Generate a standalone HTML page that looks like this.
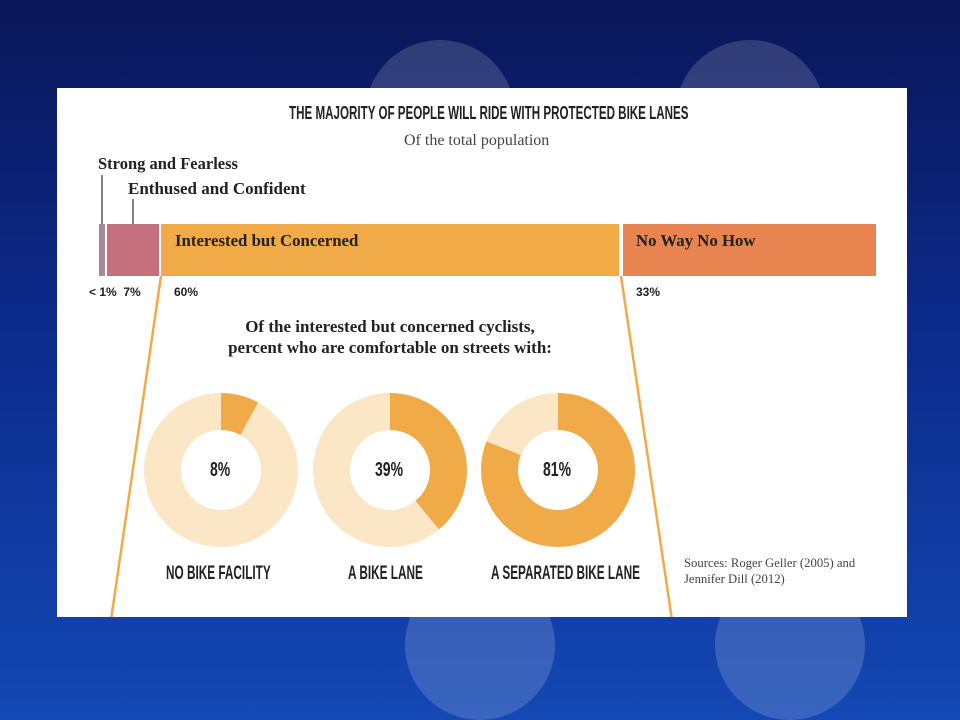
<!DOCTYPE html>
<html><head><meta charset="utf-8"><style>
body{margin:0;width:960px;height:720px;overflow:hidden;background:linear-gradient(180deg,#0b1658 0%,#0c2a8a 45%,#1448b4 100%);font-family:"Liberation Sans",sans-serif;position:relative}
.wm{position:absolute;width:150px;height:150px;border-radius:50%;background:rgba(255,255,255,0.16)}
.panel{position:absolute;left:57px;top:88px;width:850px;height:529px;background:#fff;overflow:hidden}
.t{position:absolute;white-space:nowrap;color:#222}
.serif{font-family:"Liberation Serif",serif;font-weight:bold}
.cond{font-family:"Liberation Sans Narrow","Liberation Sans",sans-serif;font-weight:bold;transform-origin:left top}
</style></head><body>
<div class="wm" style="left:365px;top:40px"></div>
<div class="wm" style="left:675px;top:40px"></div>
<div class="wm" style="left:405px;top:570px"></div>
<div class="wm" style="left:715px;top:570px"></div>
<div class="panel">
<svg width="850" height="529" style="position:absolute;left:0;top:0">
<g transform="translate(-57,-88)">
<rect x="99" y="224" width="6" height="52" fill="#a48a98"/>
<rect x="107" y="224" width="52" height="52" fill="#c4707e"/>
<rect x="161" y="224" width="458" height="52" fill="#f0aa48"/>
<rect x="623" y="224" width="253" height="52" fill="#e7844f"/>
<line x1="102" y1="175" x2="102" y2="224" stroke="#555" stroke-width="1.5"/>
<line x1="133" y1="199" x2="133" y2="224" stroke="#555" stroke-width="1.5"/>
<line x1="161" y1="276" x2="111" y2="620" stroke="#f0aa48" stroke-width="2.5"/>
<line x1="621" y1="276" x2="672" y2="620" stroke="#f0aa48" stroke-width="2.5"/>
<g fill="none" stroke-width="37">
<circle cx="221" cy="470" r="58.5" stroke="#fbe6c6"/>
<circle cx="221" cy="470" r="58.5" stroke="#f0aa48" stroke-dasharray="29.4 400" transform="rotate(-90 221 470)"/>
<circle cx="390" cy="470" r="58.5" stroke="#fbe6c6"/>
<circle cx="390" cy="470" r="58.5" stroke="#f0aa48" stroke-dasharray="143.4 400" transform="rotate(-90 390 470)"/>
<circle cx="558" cy="470" r="58.5" stroke="#fbe6c6"/>
<circle cx="558" cy="470" r="58.5" stroke="#f0aa48" stroke-dasharray="297.8 400" transform="rotate(-90 558 470)"/>
</g>
</g>
</svg>
<div class="t cond" style="left:232px;top:15px;font-size:18px;transform:scaleX(0.645)">THE MAJORITY OF PEOPLE WILL RIDE WITH PROTECTED BIKE LANES</div>
<div class="t" style="left:347px;top:44px;font-size:16px;font-family:'Liberation Serif',serif;color:#444">Of the total population</div>
<div class="t serif" style="left:41px;top:66px;font-size:16.5px">Strong and Fearless</div>
<div class="t serif" style="left:71px;top:91px;font-size:17px">Enthused and Confident</div>
<div class="t serif" style="left:118px;top:143px;font-size:16.8px">Interested but Concerned</div>
<div class="t serif" style="left:579px;top:143px;font-size:16.8px">No Way No How</div>
<div class="t" style="left:32px;top:197px;font-size:12px;font-weight:bold">&lt; 1%&nbsp; 7%</div>
<div class="t" style="left:117px;top:197px;font-size:12px;font-weight:bold">60%</div>
<div class="t" style="left:579px;top:197px;font-size:12px;font-weight:bold">33%</div>
<div class="t serif" style="left:0;width:666px;text-align:center;top:228px;font-size:17px;line-height:21px">Of the interested but concerned cyclists,<br>percent who are comfortable on streets with:</div>
<div class="t cond" style="left:153px;top:371px;font-size:20px;transform:scaleX(0.7)">8%</div>
<div class="t cond" style="left:318px;top:371px;font-size:20px;transform:scaleX(0.7)">39%</div>
<div class="t cond" style="left:486px;top:371px;font-size:20px;transform:scaleX(0.7)">81%</div>
<div class="t cond" style="left:109px;top:475px;font-size:19px;transform:scaleX(0.62)">NO BIKE FACILITY</div>
<div class="t cond" style="left:291px;top:475px;font-size:19px;transform:scaleX(0.62)">A BIKE LANE</div>
<div class="t cond" style="left:434px;top:475px;font-size:19px;transform:scaleX(0.62)">A SEPARATED BIKE LANE</div>
<div class="t" style="left:627px;top:467px;font-size:12.7px;line-height:16px;font-family:'Liberation Serif',serif;color:#444">Sources: Roger Geller (2005) and<br>Jennifer Dill (2012)</div>
</div>
</body></html>
